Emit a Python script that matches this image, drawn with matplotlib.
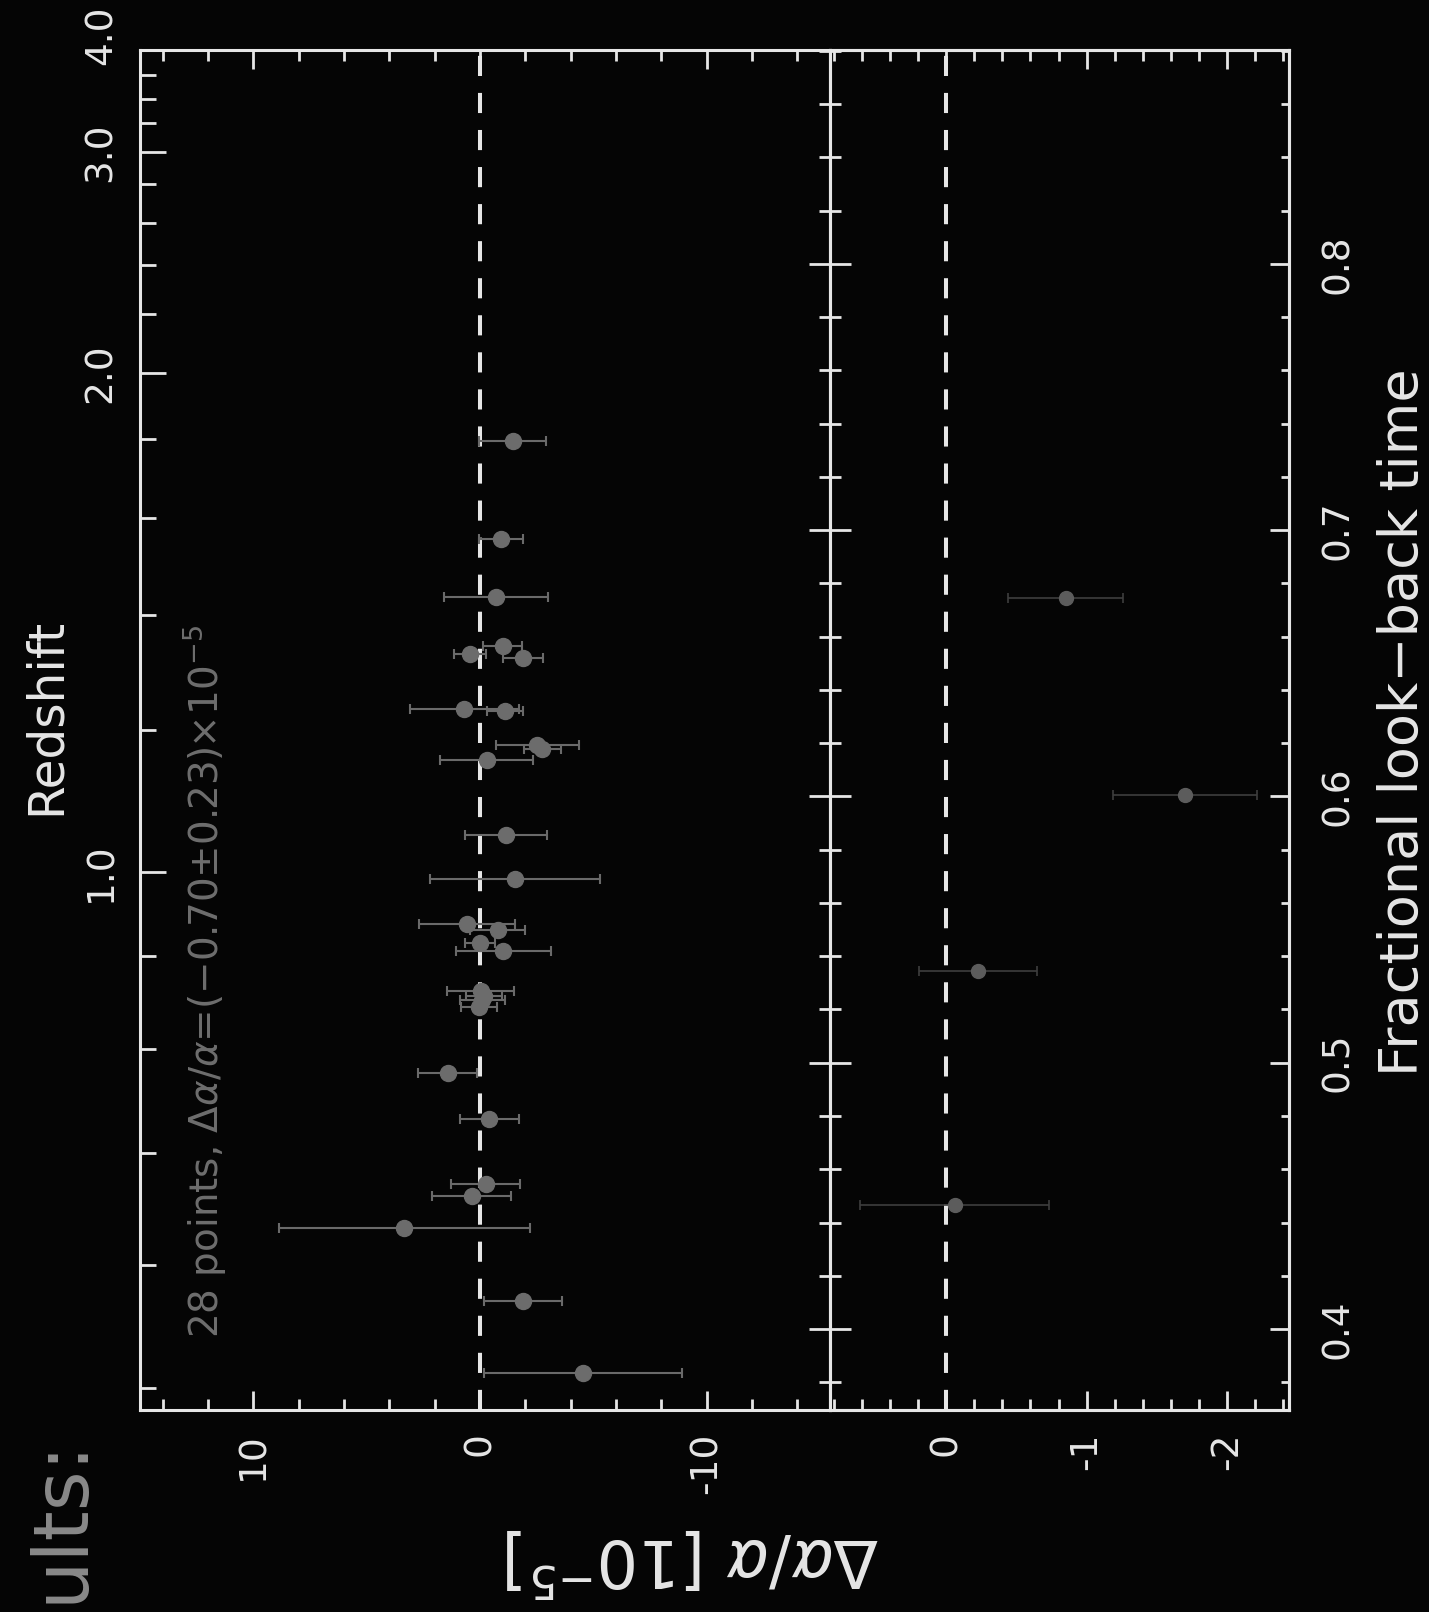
import matplotlib
matplotlib.use("Agg")
import matplotlib.pyplot as plt
import numpy as np

# ---------------- data ----------------
# upper (left) panel: 28 absorbers
lookback_main = [0.7336, 0.6966, 0.675, 0.6566, 0.6536, 0.652, 0.633, 0.632, 0.6194, 0.618,
                 0.6135, 0.5856, 0.569, 0.552, 0.550, 0.545, 0.542, 0.527, 0.525, 0.5235,
                 0.521, 0.496, 0.479, 0.4543, 0.4499, 0.4379, 0.4104, 0.3834]
dalpha_main = [-1.44, -0.92, -0.70, -1.00, 0.43, -1.92, 0.69, -1.10, -2.54, -2.76,
               -0.31, -1.14, -1.55, 0.57, -0.78, 0.0, -1.04, -0.04, -0.19, -0.10,
               0.03, 1.42, -0.41, -0.26, 0.37, 3.33, -1.92, -4.56]
err_main = [1.49, 0.97, 2.3, 0.85, 0.7, 0.88, 2.4, 0.78, 1.83, 0.8,
            2.05, 1.8, 3.77, 2.1, 1.2, 0.66, 2.1, 1.47, 0.8, 1.0,
            0.8, 1.3, 1.3, 1.53, 1.74, 5.55, 1.72, 4.36]

# lower (right) panel
lookback_low = [0.6745, 0.6006, 0.5343, 0.4466]
dalpha_low = [-0.85, -1.70, -0.23, -0.06]
err_low = [0.41, 0.51, 0.42, 0.67]

# axis ticks
lookback_major = [0.4, 0.5, 0.6, 0.7, 0.8]
lookback_labels = ["0.4", "0.5", "0.6", "0.7", "0.8"]
redshift_labels = ["1.0", "2.0", "3.0", "4.0"]
redshift_pos = [0.5717, 0.759, 0.842, 0.886]          # in look-back-time units
redshift_minor_pos = [0.378, 0.424, 0.466, 0.505, 0.54,
                      0.625, 0.668, 0.7046, 0.7343,
                      0.781, 0.7996, 0.8154, 0.830,
                      0.853, 0.862, 0.871]
main_major = [10, 0, -10]
main_labels = ["10", "0", "-10"]
low_major = [0, -1, -2]
low_labels = ["0", "-1", "-2"]

summary_text = "28 points, $\\Delta\\alpha/\\alpha$=(\u22120.70\u00b10.23)\u00d710$^{-5}$"

# ---------------- style ----------------
BG = "#050505"
FG = "#e6e6e6"
PT = "#6c6c6c"
plt.rcParams["font.family"] = ["DejaVu Sans"]
plt.rcParams["mathtext.fontset"] = "dejavusans"

W, H = 1429, 1612
fig = plt.figure(figsize=(W / 100, H / 100), dpi=100, facecolor=BG)

x0, xd, x1 = 140, 830, 1289
ytop, ybot = 50, 1410
axL = fig.add_axes([x0 / W, 1 - ybot / H, (xd - x0) / W, (ybot - ytop) / H])
axR = fig.add_axes([xd / W, 1 - ybot / H, (x1 - xd) / W, (ybot - ytop) / H])
axR2 = axR.twinx()

ylim = (0.3696, 0.8803)
for ax in (axL, axR, axR2):
    ax.set_facecolor("none")
    ax.set_ylim(*ylim)
    for s in ax.spines.values():
        s.set_color(FG)
        s.set_linewidth(2.2)
axL.set_facecolor(BG)
axR.set_facecolor(BG)
axR2.set_facecolor("none")

axL.set_xlim(15.0, -15.45)
axR.set_xlim(0.826, -2.44)

# zero lines
for ax in (axL, axR):
    ax.axvline(0, color=FG, lw=2.9, dashes=(5, 4.2), zorder=1)

# data
axL.errorbar(dalpha_main, lookback_main, xerr=err_main, fmt="o", ms=11.5,
             mfc=PT, mec=PT, ecolor="#6a6a6a", elinewidth=1.5, capsize=3.5,
             capthick=1.5, zorder=3)
axR.errorbar(dalpha_low, lookback_low, xerr=err_low, fmt="o", ms=10,
             mfc="#5c5c5c", mec="#5c5c5c", ecolor="#3e3e3e", elinewidth=1.2,
             capsize=3.5, capthick=1.2, zorder=3)

# ---- ticks: Δα/α axes (bottom + top)
tick_kw = dict(color=FG, width=2.0, labelcolor=FG, labelsize=27)
axL.set_xticks(main_major)
axL.set_xticklabels(main_labels, rotation=90, va="top", ha="center")
axL.set_xticks(np.arange(-14, 15, 2), minor=True)
axR.set_xticks(low_major)
axR.set_xticklabels(low_labels, rotation=90, va="top", ha="center")
axR.set_xticks(np.arange(-2.4, 0.81, 0.2), minor=True)
for ax in (axL, axR):
    ax.tick_params(axis="x", which="major", direction="in", length=14, top=True,
                   bottom=True, pad=16, **tick_kw)
    ax.tick_params(axis="x", which="minor", direction="in", length=8, top=True,
                   bottom=True, color=FG, width=2.0)

# ---- redshift axis (left edge)
axL.set_yticks(redshift_pos[:3])
axL.set_yticklabels(redshift_labels[:3], rotation=90, va="center", ha="right")
axL.set_yticks(redshift_minor_pos, minor=True)
axL.tick_params(axis="y", which="major", direction="in", length=19, left=True,
                right=False, pad=15, **tick_kw)
axL.tick_params(axis="y", which="minor", direction="in", length=11.5, left=True,
                right=False, color=FG, width=2.0)
axL.text(-0.055, redshift_pos[3], redshift_labels[3], transform=axL.get_yaxis_transform(),
         rotation=90, ha="center", va="center", color=FG, fontsize=27, clip_on=False)

# ---- divider ticks (look-back time, both directions)
minor_lb = np.arange(0.38, 0.881, 0.02)
axR.set_yticks(lookback_major)
axR.set_yticks(minor_lb, minor=True)
axR.tick_params(axis="y", which="major", direction="inout", length=30, left=True,
                right=False, labelleft=False, color=FG, width=2.0)
axR.tick_params(axis="y", which="minor", direction="inout", length=16, left=True,
                right=False, labelleft=False, color=FG, width=2.0)

# ---- look-back axis (right edge)
axR2.set_yticks(lookback_major)
axR2.set_yticklabels(lookback_labels, rotation=90, va="center", ha="left")
axR2.set_yticks(minor_lb, minor=True)
axR2.tick_params(axis="y", which="major", direction="in", length=14, right=True,
                 left=False, pad=22, **tick_kw)
axR2.tick_params(axis="y", which="minor", direction="in", length=6, right=True,
                 left=False, color=FG, width=2.0)

# ---- titles / labels
fig.text(46 / W, 1 - 716 / H, "Redshift", rotation=90, ha="center", va="center",
         color=FG, fontsize=35)
fig.text(1403 / W, 1 - 722 / H, "Fractional look\u2212back time", rotation=90,
         ha="center", va="center", color=FG, fontsize=39)
fig.text(692 / W, 1 - 1562 / H, "$\\Delta\\alpha/\\alpha$ [10$^{-5}$]", rotation=180,
         ha="center", va="center", color=FG, fontsize=47)
axL.text(205 / W, 1 - 982 / H, summary_text, transform=fig.transFigure, rotation=90,
         ha="center", va="center", color="#6e6e6e", fontsize=28)
fig.text(61 / W, 1 - 1438 / H, "ults:", rotation=90, ha="center", va="top",
         color="#8a8a8a", fontsize=55)

fig.savefig("out.png", dpi=100, facecolor=BG)
